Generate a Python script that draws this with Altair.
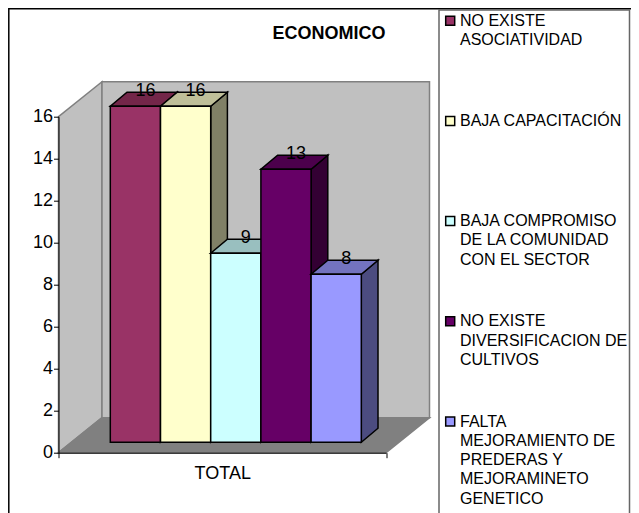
import altair as alt
import pandas as pd

TITLE = "ECONOMICO"
CATEGORY = "TOTAL"
LABELS = [
    "NO EXISTE\nASOCIATIVIDAD",
    "BAJA CAPACITACIÓN",
    "BAJA COMPROMISO\nDE LA COMUNIDAD\nCON EL SECTOR",
    "NO EXISTE\nDIVERSIFICACION DE\nCULTIVOS",
    "FALTA\nMEJORAMIENTO DE\nPREDERAS Y\nMEJORAMINETO\nGENETICO",
]
VALUES = [16, 16, 9, 13, 8]
FRONT = ["#993366", "#FFFFCC", "#CCFFFF", "#660066", "#9999FF"]
TOP = ["#732649", "#BFBF99", "#99BFBF", "#4C004C", "#7373BF"]
SIDE = ["#4C1933", "#808066", "#668080", "#330033", "#4C4C80"]
Y_TICKS = [0, 2, 4, 6, 8, 10, 12, 14, 16]

FONT = "Liberation Sans"
W, H = 327.5, 336
OX, OY = 50.5, 108.7  # view origin inside the svg
SVG_W, SVG_H = 623, 505
PAD = dict(left=OX, top=OY, right=SVG_W - OX - W, bottom=SVG_H - OY - H)

# 3D geometry in scale units
WALL_DX, WALL_DY = 43.5 / W, 35 / 21
BAR_DX, BAR_DY = 16.7 / W, 14 / 21
BAR_W = 50.2 / W
BAR_X0 = 51.8 / W
LIFT = 0.5

xs = alt.Scale(domain=[0, 1], nice=False, zero=False)
ys = alt.Scale(domain=[0, 16], nice=False, zero=False)
xa = alt.Axis(
    values=[0, 1], labels=False, grid=False, title=CATEGORY, tickSize=5,
    tickColor="black", domainColor="black", tickWidth=1, domainWidth=1,
    titleFont=FONT, titleFontSize=18, titleFontWeight="normal",
    titleColor="black", titlePadding=6, zindex=1,
)
ya = alt.Axis(
    values=Y_TICKS, grid=False, title=None, tickSize=5, tickColor="black",
    domainColor="black", tickWidth=1, domainWidth=1, labelFont=FONT,
    labelFontSize=18, labelColor="black", labelPadding=1, zindex=1,
)


def px(v):
    return alt.value(v - OX)


def py(v):
    return alt.value(v - OY)


def area(rows, fill, stroke, sw=1.5):
    df = pd.DataFrame(rows, columns=["x", "lo", "hi"])
    return alt.Chart(df).mark_area(
        fill=fill, stroke=stroke, strokeWidth=sw, orient="vertical", clip=False
    ).encode(
        x=alt.X("x:Q", scale=xs, axis=xa),
        y=alt.Y("lo:Q", scale=ys, axis=ya),
        y2="hi:Q",
    )


one = pd.DataFrame({"a": [0]})
layers = []

# chart frame (runs off the page on the right and bottom)
layers.append(
    alt.Chart(one).mark_rect(fill="transparent", stroke="black", strokeWidth=1.5).encode(
        x=px(0.8), x2=px(700), y=py(0.8), y2=py(600)
    )
)

# walls and floor
layers.append(area([[0, 0, 16], [WALL_DX, WALL_DY, 16 + WALL_DY]], "#C0C0C0", "#808080"))
layers.append(area([[WALL_DX, WALL_DY, 16 + WALL_DY], [1 + WALL_DX, WALL_DY, 16 + WALL_DY]], "#C0C0C0", "#808080"))
layers.append(area([[0, 0, 0], [WALL_DX, 0, WALL_DY], [1, 0, WALL_DY], [1 + WALL_DX, WALL_DY, WALL_DY]], "#808080", "#808080"))

# bars
for i, v in enumerate(VALUES):
    x0 = BAR_X0 + i * BAR_W
    x1 = x0 + BAR_W
    top = v + LIFT
    layers.append(area([[x1, LIFT, top], [x1 + BAR_DX, LIFT + BAR_DY, top + BAR_DY]], SIDE[i], "black"))
    layers.append(area([[x0, top, top], [x0 + BAR_DX, top, top + BAR_DY],
                        [x1, top, top + BAR_DY], [x1 + BAR_DX, top + BAR_DY, top + BAR_DY]], TOP[i], "black"))
    layers.append(
        alt.Chart(pd.DataFrame({"x": [x0], "x2": [x1], "lo": [LIFT], "hi": [top]}))
        .mark_rect(fill=FRONT[i], stroke="black", strokeWidth=1.5)
        .encode(x=alt.X("x:Q", scale=xs, axis=xa), x2="x2:Q",
                y=alt.Y("lo:Q", scale=ys, axis=ya), y2="hi:Q")
    )

# data labels
labels = pd.DataFrame({
    "x": [BAR_X0 + (i + 0.5) * BAR_W for i in range(len(VALUES))],
    "y": [v + LIFT for v in VALUES],
    "t": [str(v) for v in VALUES],
})
layers.append(
    alt.Chart(labels).mark_text(font=FONT, fontSize=18, color="black", dx=10, dy=-15.6, baseline="middle", align="center")
    .encode(x=alt.X("x:Q", scale=xs, axis=xa), y=alt.Y("y:Q", scale=ys, axis=ya), text="t:N")
)

# title
layers.append(
    alt.Chart(pd.DataFrame({"t": [TITLE]})).mark_text(
        font=FONT, fontSize=18, fontWeight="bold", color="black", align="center", baseline="middle"
    ).encode(x=px(321), y=py(25.5), text="t:N")
)

# legend
layers.append(
    alt.Chart(one).mark_rect(fill="white", stroke="#666666", strokeWidth=1.5).encode(
        x=px(431), x2=px(621.5), y=py(2), y2=py(600)
    )
)
for i, (lab, col) in enumerate(zip(LABELS, FRONT)):
    cy = 12.7 + i * 100.2
    row = pd.DataFrame({"t": [lab]})
    layers.append(
        alt.Chart(row).mark_rect(fill=col, stroke="black", strokeWidth=1.5).encode(
            x=px(437.7), x2=px(446.7), y=py(cy - 4.5), y2=py(cy + 4.5)
        )
    )
    layers.append(
        alt.Chart(row).mark_text(font=FONT, fontSize=16, color="black", align="left",
                                 baseline="middle", lineBreak="\n", lineHeight=19.3)
        .encode(x=px(452), y=py(cy), text="t:N")
    )

chart = (
    alt.layer(*layers)
    .properties(
        width=W, height=H, padding=PAD,
        autosize=alt.AutoSizeParams(type="none"),
        background="white",
    )
    .configure_view(stroke=None)
)

chart.save("out.html", embed_options={"renderer": "svg", "actions": False})
